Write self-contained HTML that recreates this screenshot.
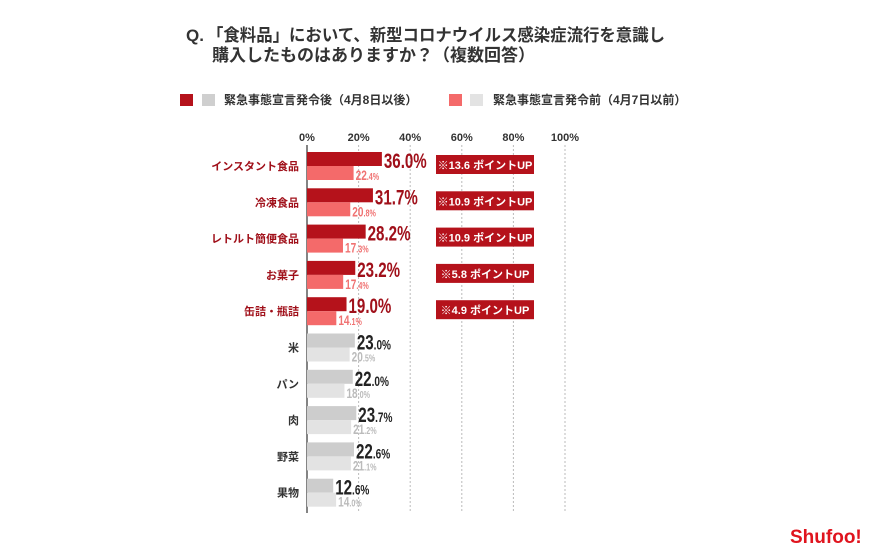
<!DOCTYPE html>
<html><head><meta charset="utf-8"><style>
body{margin:0;background:#fff;}
#wrap{position:relative;width:870px;height:553px;overflow:hidden;background:#fff;font-family:"Liberation Sans","Noto Sans CJK JP",sans-serif;}
</style></head><body>
<div id="wrap">
<svg id="svg" width="870" height="553" xmlns="http://www.w3.org/2000/svg" font-family="Liberation Sans, Noto Sans CJK JP, sans-serif">
  <g font-weight="bold" font-size="17" fill="#333">
    <text x="186" y="41" font-size="17">Q.</text>
    <text x="207" y="41" textLength="458" lengthAdjust="spacingAndGlyphs">「食料品」において、新型コロナウイルス感染症流行を意識し</text>
    <text x="212" y="61">購入したものはありますか？（複数回答）</text>
  </g>
  <g font-weight="bold" font-size="12" fill="#333">
    <rect x="180" y="94" width="13" height="12" fill="#b5121b"/>
    <rect x="202" y="94" width="13" height="12" fill="#cfcfcf"/>
    <text x="224" y="104">緊急事態宣言発令後（4月8日以後）</text>
    <rect x="449" y="94" width="13" height="12" fill="#f46a6a"/>
    <rect x="470" y="94" width="13" height="12" fill="#e3e3e3"/>
    <text x="493" y="104">緊急事態宣言発令前（4月7日以前）</text>
  </g>
  <g id="grid"></g>
  <g id="bars"></g>
  <text x="790" y="543" font-size="19" font-weight="bold" fill="#e0141e">Shufoo!</text>
</svg>
</div>
<script>
const categories=["インスタント食品","冷凍食品","レトルト簡便食品","お菓子","缶詰・瓶詰","米","パン","肉","野菜","果物"];
const afterValues=[36.0,31.7,28.2,23.2,19.0,23.0,22.0,23.7,22.6,12.6];
const beforeValues=[22.4,20.8,17.3,17.4,14.1,20.5,18.0,21.2,21.1,14.0];
const highlighted=[true,true,true,true,true,false,false,false,false,false];
const upLabels=["※13.6 ポイントUP","※10.9 ポイントUP","※10.9 ポイントUP","※5.8 ポイントUP","※4.9 ポイントUP"];
const tickValues=[0,20,40,60,80,100];
const tickLabels=["0%","20%","40%","60%","80%","100%"];

const NS="http://www.w3.org/2000/svg";
const x0=307;
function x(v){return x0+v*2.08;}
function gx(v){return x0+v*2.58;}
function y(i){return 152+i*36.3;}
function el(tag,attrs,parent){const e=document.createElementNS(NS,tag);for(const k in attrs)e.setAttribute(k,attrs[k]);parent.appendChild(e);return e;}
const grid=document.getElementById('grid'),bars=document.getElementById('bars');
tickValues.forEach((t,i)=>{
  if(t>0){const l=el('line',{x1:gx(t),x2:gx(t),y1:145,y2:512,stroke:'#bbb','stroke-width':1,'stroke-dasharray':'2,2'},grid);
  
  }
  const tx=el('text',{x:gx(t),y:141,'text-anchor':'middle','font-size':11,'font-weight':'bold',fill:'#333'},grid);
  tx.textContent=tickLabels[i];
  
  
});
const ax=el('line',{x1:x0,x2:x0,y1:145,y2:513,stroke:'#333','stroke-width':1.2},grid);


categories.forEach((c,i)=>{
  const hi=highlighted[i];
  const top=y(i);
  const lab=el('text',{x:x0-8,y:top+18,'text-anchor':'end','font-size':11,'font-weight':'bold',fill:hi?'#a0101a':'#333'},bars);
  lab.textContent=c;
  
  
  const b1=el('rect',{x:x0,y:top,width:x(afterValues[i])-x0,height:14,fill:hi?'#b5121b':'#cdcdcd'},bars);
  
  
  const b2=el('rect',{x:x0,y:top+14,width:x(beforeValues[i])-x0,height:14,fill:hi?'#f46a6a':'#e3e3e3'},bars);
  
  
  const s1=afterValues[i].toFixed(1).split('.');
  const t1=el('text',{x:0,y:top+16,transform:'translate('+(x(afterValues[i])+2)+',0) scale(0.72,1)','font-weight':'bold',fill:hi?'#a0101a':'#222','font-size':21},bars);
  t1.innerHTML=s1[0]+'<tspan font-size="'+(hi?21:14)+'">.'+s1[1]+'%</tspan>';
  
  
  const s2=beforeValues[i].toFixed(1).split('.');
  const t2=el('text',{x:0,y:top+28,transform:'translate('+(x(beforeValues[i])+2)+',0) scale(0.72,1)','font-weight':'bold',fill:hi?'#f07272':'#bbb','font-size':14},bars);
  t2.innerHTML=s2[0]+'<tspan font-size="10">.'+s2[1]+'%</tspan>';
  
  
  if(hi){
    const bx=el('rect',{x:436,y:top+3,width:98,height:19,fill:'#b5121b'},bars);
    
    
    const bt=el('text',{x:485,y:top+17,'text-anchor':'middle','font-size':11,'font-weight':'bold',fill:'#fff'},bars);
    bt.textContent=upLabels[i];
    
    
  }
});
</script>
</body></html>
